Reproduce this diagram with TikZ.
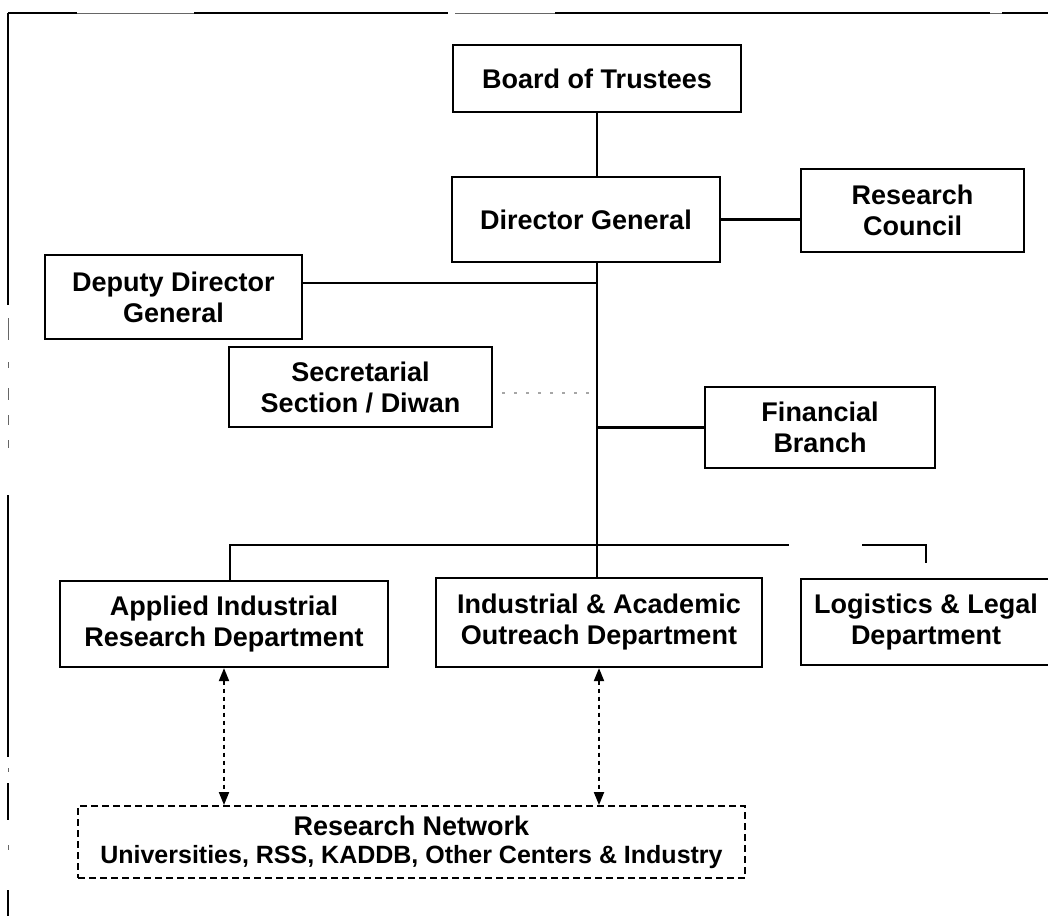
\documentclass[tikz,border=0pt]{standalone}
\usepackage{fontspec}
\setmainfont{Liberation Sans}
\usetikzlibrary{arrows.meta}
\begin{document}
\begin{tikzpicture}[x=1pt,y=-1pt,
  box/.style={draw=black, line width=2.2pt, inner sep=0pt, align=center,
    font=\bfseries\fontsize{27}{31}\selectfont},
  link/.style={line width=2.2pt},
  weak/.style={draw=black!35, line width=1.2pt, dash pattern=on 3pt off 9pt},
  netbox/.style={draw=black, line width=1.9pt, dash pattern=on 7pt off 4pt,
    inner sep=0pt, align=center, font=\bfseries\fontsize{25}{28}\selectfont},
  twoway/.style={line width=1.9pt, dash pattern=on 4pt off 4pt,
    {Triangle[length=13pt,width=10pt]}-{Triangle[length=13pt,width=10pt]}},
  edge/.style={line width=2.6pt},
  thinedge/.style={line width=1pt, black!60}
]
\useasboundingbox (0,0) rectangle (1048,916);

% page frame, top and left
\draw[edge] (8,13) -- (77,13);
\draw[thinedge] (77,13) -- (194,13);
\draw[edge] (194,13) -- (448,13);
\draw[thinedge] (455,13) -- (555,13);
\draw[edge] (555,13) -- (990,13);
\draw[thinedge] (990,13) -- (1002,13);
\draw[edge] (1002,13) -- (1048,13);
\draw[edge] (8,13) -- (8,305);
\foreach \a/\b in {318/340, 362/368, 388/400, 415/425, 440/448, 768/772, 845/850}
  \draw[thinedge] (8,\a) -- (8,\b);
\draw[edge] (8,495) -- (8,757);
\draw[edge] (8,783) -- (8,820);
\draw[edge] (8,890) -- (8,916);

% boxes
\node[box, minimum width=288, minimum height=67] (bot) at (597,78.5) {Board of Trustees};
\node[box, minimum width=268, minimum height=85] (dg) at (586,219.5) {Director General};
\node[box, minimum width=223, minimum height=83] (rc) at (912.5,210.5) {Research\\Council};
\node[box, minimum width=257, minimum height=84] (ddg) at (173.5,297) {Deputy Director\\General};
\node[box, minimum width=263, minimum height=80] (sec) at (360.5,387) {Secretarial\\Section / Diwan};
\node[box, minimum width=230, minimum height=81] (fin) at (820,427.5) {Financial\\Branch};
\node[box, minimum width=328, minimum height=86] (app) at (224,624) {Applied Industrial\\Research Department};
\node[box, minimum width=326, minimum height=89] (ind) at (599,622.5) {Industrial \& Academic\\Outreach Department};
\node[box, minimum width=250, minimum height=86] (log) at (926,622) {Logistics \& Legal\\Department};
\node[netbox, minimum width=667, minimum height=72] (net) at (411.5,842)
  {{\fontsize{27}{28}\selectfont Research Network}\\Universities, RSS, KADDB, Other Centers \& Industry};

% reporting lines
\draw[link] (bot.south) -- (bot.south |- dg.north);
\draw[link] (dg.east) -- (dg.east -| rc.west);
\coordinate (trunk) at (dg.south -| bot.south);
\draw[link] (trunk) -- (trunk |- ind.north);
\coordinate (jd) at (597,283);
\draw[link] (jd) -- (jd -| ddg.east);
\coordinate (js) at (590,393);
\draw[weak] ([xshift=9pt]sec.east |- js) -- (js);
\draw[link] (fin.west) -- (fin.west -| trunk);

% department bus
\coordinate (busL) at (230,545);
\coordinate (busM) at (789,545);
\coordinate (busR) at (862,545);
\coordinate (dropR) at (926,563);
\draw[link] (busL |- app.north) -- (busL) -- (busM);
\draw[link] (busR) -- (busR -| dropR) -- (dropR);

% links to the research network
\draw[twoway] (app.south) -- (app.south |- net.north);
\draw[twoway] (ind.south) -- (ind.south |- net.north);
\end{tikzpicture}
\end{document}
